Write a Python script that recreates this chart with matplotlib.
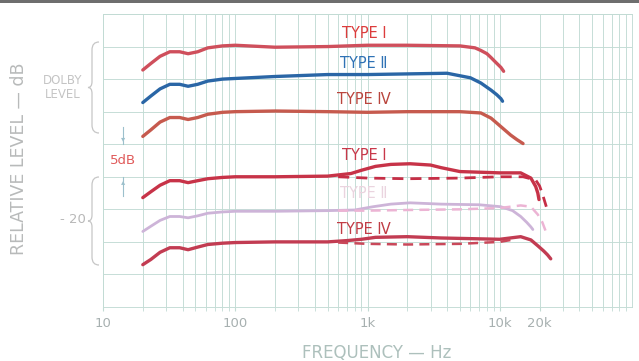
import matplotlib
matplotlib.use("Agg")
import matplotlib.pyplot as plt
from matplotlib.path import Path
from matplotlib.patches import PathPatch, Rectangle
from matplotlib.ticker import FixedLocator, NullFormatter, NullLocator

# ---- data (dB; curves offset by the original figure) ----
UP1_F = [20, 23, 27, 32, 38, 44, 52, 62, 80, 100, 200, 500, 1000, 2000, 5000,
         6500, 7200, 8000, 8600, 9300, 10200, 10700]
UP1_DB = [-3.6, -2.6, -1.5, -0.8, -0.8, -1.1, -0.8, -0.2, 0.1, 0.2, -0.1, 0.0,
          0.2, 0.2, 0.1, -0.2, -0.6, -1.1, -1.7, -2.4, -3.2, -3.8]

UP2_F = [20, 23, 27, 32, 38, 44, 52, 62, 80, 100, 200, 500, 1000, 2000, 4000,
         6000, 7200, 8600, 9500, 10200, 10500]
UP2_DB = [-8.6, -7.6, -6.5, -5.8, -5.8, -6.1, -5.8, -5.3, -5.0, -4.9, -4.6,
          -4.3, -4.3, -4.2, -4.1, -4.8, -5.6, -6.7, -7.4, -8.0, -8.4]

UP4_F = [20, 23, 27, 32, 38, 44, 52, 62, 80, 100, 200, 500, 1000, 2000, 5000,
         7200, 8600, 10200, 12100, 13500, 15000]
UP4_DB = [-13.8, -12.8, -11.6, -10.9, -10.9, -11.2, -10.9, -10.4, -10.1, -10.0,
          -9.9, -10.0, -10.1, -10.0, -10.0, -10.2, -11.0, -12.3, -13.6, -14.3,
          -14.9]

LO1_F = [20, 23, 27, 32, 38, 44, 52, 62, 80, 100, 200, 500, 750, 900, 1150,
         1500, 2100, 3000, 3600, 5000, 10000, 14400, 17200, 18700, 19400, 19800]
LO1_DB = [-23.2, -22.3, -21.3, -20.6, -20.6, -20.9, -20.6, -20.3, -20.1, -20.0,
          -20.0, -19.9, -19.5, -19.0, -18.4, -18.1, -18.0, -18.2, -18.6, -19.2,
          -19.4, -19.4, -20.2, -21.5, -22.5, -23.5]
LO1D_F = [600, 1000, 2000, 5000, 10000, 15000, 18700, 20000, 21000, 22500]
LO1D_DB = [-20.0, -20.2, -20.3, -20.2, -20.0, -20.0, -20.5, -21.4, -22.6, -24.6]

LO2_F = [20, 23, 27, 32, 38, 44, 52, 62, 80, 100, 200, 500, 800, 1100, 1500,
         2100, 3600, 7000, 10200, 12500, 14400, 16000, 17200, 17800]
LO2_DB = [-28.4, -27.6, -26.7, -26.1, -26.1, -26.3, -26.0, -25.6, -25.4, -25.3,
          -25.3, -25.2, -25.1, -24.6, -24.2, -24.0, -24.2, -24.3, -24.6, -25.2,
          -26.1, -27.0, -27.7, -28.1]
LO2D_F = [600, 1000, 2000, 5000, 10000, 14400, 17200, 19400, 21000, 22300]
LO2D_DB = [-25.2, -25.2, -25.1, -25.0, -24.8, -24.4, -24.6, -25.8, -27.0, -28.4]

LO4_F = [20, 23, 27, 32, 38, 44, 52, 62, 80, 100, 200, 500, 700, 900, 1150,
         2000, 3600, 10000, 14400, 17200, 19400, 21500, 23000, 24300]
LO4_DB = [-33.5, -32.7, -31.6, -30.9, -30.9, -31.2, -30.8, -30.4, -30.2, -30.1,
          -30.0, -30.0, -29.8, -29.6, -29.3, -29.2, -29.4, -29.6, -29.2, -29.7,
          -30.6, -31.4, -32.0, -32.6]
LO4D_F = [600, 1000, 2000, 5000, 10000, 13000]
LO4D_DB = [-30.1, -30.3, -30.4, -30.3, -30.0, -29.6]

XTICKS = [10, 100, 1000, 10000, 20000]
XTICKLABELS = ["10", "100", "1k", "10k", "20k"]

W, H = 639, 361
GRID = "#c2dbd4"


def fx(px):
    return px / W


def fy(py):
    return 1 - py / H


fig = plt.figure(figsize=(W / 100, H / 100), dpi=100)
fig.patch.set_facecolor("white")
ax = fig.add_axes([fx(103), fy(307), fx(632) - fx(103), fy(14) - fy(307)])
ax.set_xscale("log")
ax.set_xlim(10, 100000)
ax.set_ylim(-40, 5)

minor = [m * 10 ** e for e in range(1, 5) for m in range(2, 10)]
ax.xaxis.set_major_locator(FixedLocator(XTICKS))
ax.xaxis.set_minor_locator(FixedLocator(minor))
ax.xaxis.set_minor_formatter(NullFormatter())
ax.set_xticklabels(XTICKLABELS)
ax.set_yticks(range(-40, 6, 5))
ax.yaxis.set_minor_locator(NullLocator())
ax.set_yticklabels([])
for x in [10] + minor + [100, 1000, 10000, 100000]:
    ax.axvline(x, color=GRID, lw=0.65, zorder=1)
for y in range(-40, 6, 5):
    ax.axhline(y, color=GRID, lw=0.65, zorder=1)
ax.tick_params(axis="x", which="both", length=3, color=GRID, pad=4,
               labelsize=9.5, labelcolor="#a7b0b0")
ax.tick_params(axis="y", length=0)
for s in ax.spines.values():
    s.set_color(GRID)
    s.set_linewidth(0.65)

LW = 2.4
ax.plot(UP1_F, UP1_DB, color="#cf4f5c", lw=LW, solid_capstyle="round", zorder=3)
ax.plot(UP2_F, UP2_DB, color="#2a66a6", lw=LW, solid_capstyle="round", zorder=3)
ax.plot(UP4_F, UP4_DB, color="#c65a4e", lw=LW, solid_capstyle="round", zorder=3)
ax.plot(LO1_F, LO1_DB, color="#c73348", lw=LW, solid_capstyle="round", zorder=3)
ax.plot(LO1D_F, LO1D_DB, color="#c62e46", lw=2.0, ls=(0, (4, 2.5)), zorder=3)
ax.plot(LO2_F, LO2_DB, color="#cdb4d8", lw=2.0, solid_capstyle="round", zorder=3)
ax.plot(LO2D_F, LO2D_DB, color="#ecb4d4", lw=1.8, ls=(0, (4, 2.5)), zorder=3)
ax.plot(LO4_F, LO4_DB, color="#c23c52", lw=LW, solid_capstyle="round", zorder=3)
ax.plot(LO4D_F, LO4D_DB, color="#c9485a", lw=1.8, ls=(0, (4, 2.5)), zorder=3)

labels = [("TYPE I", 34, "#dc3c3c"), ("TYPE Ⅱ", 64, "#2f72b5"),
          ("TYPE Ⅳ", 100, "#b9453d"), ("TYPE I", 156, "#c8384a"),
          ("TYPE Ⅱ", 193, "#ead4df"), ("TYPE Ⅳ", 229, "#c03c45")]
for txt, py, col in labels:
    fig.text(fx(364), fy(py), txt, color=col, fontsize=10.5,
             ha="center", va="center")

fig.text(fx(19), fy(159), "RELATIVE LEVEL — dB", rotation=90, fontsize=12.5,
         color="#b8baba", ha="center", va="center")
fig.text(fx(377), fy(353), "FREQUENCY — Hz", fontsize=12, color="#adc0bc",
         ha="center", va="center")
fig.text(fx(63), fy(88), "DOLBY\nLEVEL", fontsize=8.5, color="#c4c4c4",
         ha="center", va="center", linespacing=1.1)
fig.text(fx(73), fy(220), "- 20", fontsize=9.5, color="#b8b8b8",
         ha="center", va="center")
fig.text(fx(123), fy(161), "5dB", fontsize=9.5, color="#e05a5a",
         ha="center", va="center")

# 5 dB arrows
fig.add_artist(plt.Line2D([fx(123), fx(123)], [fy(127), fy(144)],
                          color="#9cc0cc", lw=0.8))
fig.add_artist(plt.Line2D([fx(123), fx(123)], [fy(177), fy(196)],
                          color="#9cc0cc", lw=0.8))
fig.text(fx(123), fy(139), "▾", fontsize=6, color="#9cc0cc",
         ha="center", va="center")
fig.text(fx(123), fy(182), "▴", fontsize=6, color="#9cc0cc",
         ha="center", va="center")


def brace(top, bottom, xr=99, xv=92, xt=88):
    mid = (top + bottom) / 2
    pts = [(xr, top), (xv, top), (xv, top + 8), (xv, mid - 6), (xv, mid),
           (xt, mid), (xv, mid), (xv, mid + 6), (xv, bottom - 8),
           (xv, bottom), (xr, bottom)]
    codes = [Path.MOVETO, Path.CURVE3, Path.CURVE3, Path.LINETO, Path.CURVE3,
             Path.CURVE3, Path.CURVE3, Path.CURVE3, Path.LINETO, Path.CURVE3,
             Path.CURVE3]
    verts = [(fx(a), fy(b)) for a, b in pts]
    fig.add_artist(PathPatch(Path(verts, codes), transform=fig.transFigure,
                             fill=False, ec="#c6c6c6", lw=0.9))


brace(42, 133)
brace(177, 265)

fig.add_artist(Rectangle((0, fy(2.5)), 1, 2.5 / H, transform=fig.transFigure,
                         color="#6e6e6e", lw=0))

fig.savefig("out.png", dpi=100)
